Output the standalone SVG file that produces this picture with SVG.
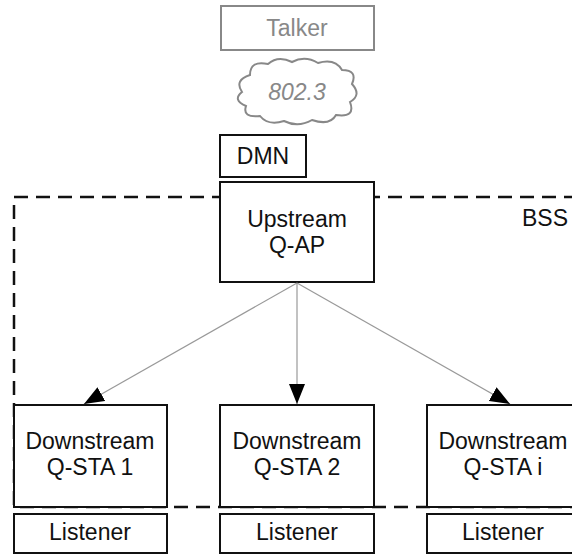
<svg xmlns="http://www.w3.org/2000/svg" width="572" height="556" viewBox="0 0 572 556">
<defs>
<style>
.box{fill:#fff;stroke:#111;stroke-width:2}
.gbox{fill:#fff;stroke:#888;stroke-width:2}
.t{font-family:"Liberation Sans",Arial,sans-serif;font-size:23px;fill:#111;text-anchor:middle}
.gt{fill:#888}
.edge{stroke:#999;stroke-width:1.2;fill:none}
</style>
<marker id="ah" markerWidth="20" markerHeight="16" refX="20" refY="8" orient="auto" markerUnits="userSpaceOnUse">
<path d="M0,0 L20,8 L0,16 Z" fill="#000"/>
</marker>
</defs>
<rect x="14" y="197" width="570" height="310" fill="none" stroke="#111" stroke-width="2.5" stroke-dasharray="14,8"/>
<text class="t" x="545" y="226">BSS</text>
<g id="talker"><rect class="gbox" x="221" y="6" width="153" height="44"/><text class="t gt" x="297" y="36">Talker</text></g>
<g id="cloud"><path class="gbox" d="M250,75 Q250,60 268,64 Q278,55 292,62 Q305,55 318,63 Q335,58 342,70 Q358,70 352,84 Q362,95 350,102 Q356,118 336,115 Q330,126 312,120 Q298,128 284,121 Q268,126 260,116 Q242,118 246,106 Q232,100 242,92 Q234,80 250,75 Z"/><text class="t gt" x="297" y="100" font-style="italic">802.3</text></g>
<g id="dmn"><rect class="box" x="220" y="135" width="86" height="42"/><text class="t" x="263" y="164">DMN</text></g>
<g id="qap"><rect class="box" x="220" y="182" width="154" height="100"/><text class="t" x="297" y="227">Upstream</text><text class="t" x="297" y="253">Q-AP</text></g>
<g id="connectors">
<line class="edge" x1="297" y1="283" x2="84" y2="404" marker-end="url(#ah)"/>
<line class="edge" x1="297" y1="283" x2="297" y2="404" marker-end="url(#ah)"/>
<line class="edge" x1="297" y1="283" x2="510" y2="404" marker-end="url(#ah)"/>
</g>
<g id="sta1"><rect class="box" x="14" y="405" width="153" height="102"/><text class="t" x="90" y="449">Downstream</text><text class="t" x="90" y="475">Q-STA 1</text></g>
<g id="sta2"><rect class="box" x="220" y="405" width="154" height="102"/><text class="t" x="297" y="449">Downstream</text><text class="t" x="297" y="475">Q-STA 2</text></g>
<g id="stai"><rect class="box" x="427" y="405" width="160" height="102"/><text class="t" x="503" y="449">Downstream</text><text class="t" x="503" y="475">Q-STA i</text></g>
<g id="l1"><rect class="box" x="14" y="514" width="153" height="39"/><text class="t" x="90" y="540">Listener</text></g>
<g id="l2"><rect class="box" x="220" y="514" width="154" height="39"/><text class="t" x="297" y="540">Listener</text></g>
<g id="li"><rect class="box" x="427" y="514" width="160" height="39"/><text class="t" x="503" y="540">Listener</text></g>
</svg>
